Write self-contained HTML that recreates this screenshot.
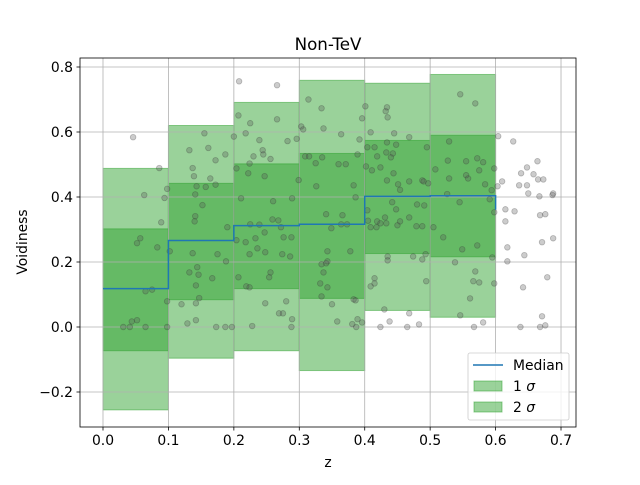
<!DOCTYPE html>
<html><head><meta charset="utf-8"><style>
body{margin:0;background:#fff}
svg text{font-family:"DejaVu Sans","Liberation Sans",sans-serif;fill:#000}
</style></head><body>
<svg id="c" width="640" height="480" xmlns="http://www.w3.org/2000/svg"></svg>
<script>
const binEdges=[0,0.1,0.2,0.3,0.4,0.5,0.6];
const medians=[0.118,0.266,0.312,0.316,0.402,0.404,0.361];
const s1Lo=[-0.073,0.084,0.118,0.088,0.226,0.216];
const s1Hi=[0.302,0.442,0.502,0.534,0.574,0.59];
const s2Lo=[-0.255,-0.096,-0.073,-0.134,0.051,0.030];
const s2Hi=[0.488,0.62,0.691,0.759,0.75,0.777];
const xTicks=[0,0.1,0.2,0.3,0.4,0.5,0.6,0.7];
const xTickLabels=["0.0","0.1","0.2","0.3","0.4","0.5","0.6","0.7"];
const yTicks=[-0.2,0,0.2,0.4,0.6,0.8];
const yTickLabels=["\u22120.2","0.0","0.2","0.4","0.6","0.8"];
const pointsZ=[0.046,0.086,0.063,0.094,0.098,0.089,0.057,0.052,0.083,0.065,0.075,0.044,0.052,0.031,0.041,0.065,0.098,0.098,
0.155,0.132,0.161,0.187,0.172,0.137,0.139,0.164,0.143,0.157,0.172,0.141,0.152,0.141,0.140,0.190,0.102,0.137,0.175,0.188,0.132,0.144,0.146,0.167,0.142,0.147,0.12,0.142,0.129,0.142,0.173,0.187,0.197,
0.208,0.266,0.207,0.225,0.266,0.2,0.218,0.239,0.244,0.245,0.23,0.256,0.282,0.296,0.224,0.204,0.222,0.247,0.211,0.26,0.289,0.259,0.268,0.225,0.239,0.272,0.288,0.276,0.204,0.218,0.233,0.247,0.236,0.224,0.248,0.274,0.286,0.207,0.254,0.256,0.219,0.224,0.248,0.269,0.275,0.28,0.289,0.228,0.288,
0.314,0.334,0.303,0.306,0.337,0.364,0.392,0.309,0.315,0.335,0.389,0.325,0.36,0.371,0.299,0.326,0.383,0.386,0.341,0.366,0.349,0.364,0.373,0.343,0.378,0.343,0.341,0.334,0.337,0.332,0.343,0.334,0.383,0.386,0.35,0.358,0.389,0.381,0.387,0.396,
0.401,0.432,0.434,0.435,0.396,0.409,0.445,0.468,0.404,0.415,0.434,0.448,0.419,0.433,0.443,0.44,0.495,0.402,0.411,0.424,0.444,0.434,0.451,0.468,0.488,0.49,0.497,0.454,0.442,0.448,0.48,0.491,0.404,0.431,0.468,0.405,0.419,0.424,0.433,0.45,0.454,0.409,0.418,0.479,0.488,0.435,0.474,0.435,0.488,0.493,0.415,0.409,0.415,0.494,0.43,0.468,0.438,0.424,0.465,0.483,
0.546,0.569,0.529,0.527,0.555,0.572,0.581,0.508,0.575,0.529,0.555,0.558,0.584,0.594,0.526,0.545,0.591,0.505,0.52,0.549,0.572,0.595,0.538,0.569,0.566,0.575,0.561,0.546,0.567,0.581,
0.604,0.627,0.598,0.648,0.664,0.639,0.658,0.665,0.673,0.61,0.603,0.636,0.648,0.65,0.667,0.687,0.688,0.615,0.629,0.598,0.615,0.668,0.676,0.671,0.688,0.618,0.644,0.618,0.679,0.598,0.642,0.671,0.676,0.668,0.638];
const pointsV=[0.584,0.489,0.406,0.397,0.425,0.322,0.273,0.258,0.245,0.110,0.115,0.017,0.021,0,0,0,0,0.079,
0.596,0.544,0.551,0.531,0.513,0.489,0.464,0.457,0.433,0.431,0.438,0.408,0.375,0.341,0.325,0.307,0.233,0.227,0.224,0.202,0.168,0.184,0.161,0.150,0.128,0.089,0.07,0.073,0.011,0.021,0,0,0,
0.756,0.744,0.651,0.627,0.639,0.586,0.596,0.575,0.544,0.531,0.525,0.517,0.572,0.579,0.503,0.488,0.473,0.464,0.396,0.387,0.396,0.331,0.328,0.316,0.315,0.307,0.276,0.276,0.267,0.261,0.273,0.291,0.242,0.224,0.23,0.224,0.217,0.153,0.153,0.168,0.125,0.122,0.073,0.042,0.042,0.079,0.024,0.003,0,
0.70,0.673,0.617,0.608,0.611,0.593,0.577,0.525,0.525,0.522,0.531,0.504,0.501,0.501,0.452,0.433,0.436,0.399,0.347,0.344,0.304,0.316,0.316,0.233,0.233,0.202,0.196,0.193,0.168,0.134,0.122,0.094,0.085,0.082,0.07,0.017,0.024,0.009,0,0.014,
0.679,0.664,0.676,0.645,0.642,0.599,0.596,0.584,0.553,0.553,0.568,0.561,0.525,0.537,0.534,0.522,0.553,0.494,0.482,0.491,0.473,0.451,0.439,0.448,0.451,0.448,0.442,0.422,0.384,0.362,0.377,0.374,0.359,0.337,0.337,0.327,0.325,0.319,0.319,0.313,0.325,0.307,0.307,0.31,0.31,0.217,0.217,0.205,0.208,0.224,0.15,0.125,0.134,0.141,0.054,0.042,0.017,0,0,0.008,
0.716,0.688,0.571,0.512,0.51,0.519,0.507,0.485,0.482,0.457,0.467,0.457,0.439,0.421,0.409,0.384,0.393,0.307,0.276,0.239,0.251,0.214,0.199,0.171,0.141,0.137,0.088,0.036,0,0.014,
0.587,0.571,0.488,0.491,0.51,0.473,0.47,0.454,0.454,0.448,0.433,0.436,0.436,0.411,0.402,0.406,0.411,0.362,0.356,0.353,0.325,0.344,0.347,0.261,0.273,0.245,0.221,0.202,0.153,0.134,0.122,0.033,0.005,0,0];

const NS="http://www.w3.org/2000/svg";
const svg=document.getElementById('c');
const L=80,R=576,T=58,B=427;
const X=z=>103+z*654.3;
const Y=v=>327-v*325;
function mk(tag,attrs,parent){const e=document.createElementNS(NS,tag);for(const k in attrs)e.setAttribute(k,attrs[k]);(parent||svg).appendChild(e);return e;}

for(let i=0;i<s2Lo.length;i++){
  const r=mk('rect',{x:X(binEdges[i]),y:Y(s2Hi[i]),width:X(binEdges[i+1])-X(binEdges[i]),height:Y(s2Lo[i])-Y(s2Hi[i]),fill:'#2ca02c','fill-opacity':0.48,stroke:'#2ca02c','stroke-opacity':0.5,'stroke-width':1});
  
  
}
for(let i=0;i<s1Lo.length;i++){
  const r=mk('rect',{x:X(binEdges[i]),y:Y(s1Hi[i]),width:X(binEdges[i+1])-X(binEdges[i]),height:Y(s1Lo[i])-Y(s1Hi[i]),fill:'#2ca02c','fill-opacity':0.48,stroke:'#2ca02c','stroke-opacity':0.5,'stroke-width':1});
  
  
}
xTicks.forEach(t=>{const g=mk('line',{x1:X(t),x2:X(t),y1:T,y2:B,stroke:'#b0b0b0','stroke-width':0.8});
  
  });
yTicks.forEach(t=>{const g=mk('line',{x1:L,x2:R,y1:Y(t),y2:Y(t),stroke:'#b0b0b0','stroke-width':0.8});
  
  });
for(let i=0;i<pointsZ.length;i++){
  const c=mk('circle',{cx:X(pointsZ[i]),cy:Y(pointsV[i]),r:2.8,fill:'#555','fill-opacity':0.3,stroke:'#333','stroke-opacity':0.3,'stroke-width':0.8});
  
  
}
let d='M'+X(binEdges[0])+','+Y(medians[0]);
for(let i=1;i<binEdges.length;i++){d+=' L'+X(binEdges[i])+','+Y(medians[i-1])+' L'+X(binEdges[i])+','+Y(medians[i]);}
const m=mk('path',{d:d,fill:'none',stroke:'#1f77b4','stroke-width':1.5});


const f=mk('rect',{x:L,y:T,width:R-L,height:B-T,fill:'none',stroke:'#000','stroke-width':0.8});


xTicks.forEach((t,i)=>{mk('line',{x1:X(t),x2:X(t),y1:B,y2:B+3.5,stroke:'#000','stroke-width':0.8});
  const tx=mk('text',{x:X(t),y:B+18,'text-anchor':'middle','font-size':13.9});tx.textContent=xTickLabels[i];
  
  });
yTicks.forEach((t,i)=>{mk('line',{x1:L-3.5,x2:L,y1:Y(t),y2:Y(t),stroke:'#000','stroke-width':0.8});
  const tx=mk('text',{x:L-7,y:Y(t)+5,'text-anchor':'end','font-size':13.9});tx.textContent=yTickLabels[i];
  
  });
</script>
<svg style="position:absolute;left:0;top:0" width="640" height="480" xmlns="http://www.w3.org/2000/svg">
<text x="328" y="50" text-anchor="middle" font-size="16.7">Non-TeV</text>
<text x="328" y="467" text-anchor="middle" font-size="13.9">z</text>
<text x="27" y="242" text-anchor="middle" font-size="13.9" transform="rotate(-90 27 242)">Voidiness</text>
<g>
<rect x="468" y="353" width="101" height="67" rx="2" fill="#fff" fill-opacity="0.8" stroke="#ccc" stroke-width="0.8"/>
<line x1="473" y1="365" x2="503" y2="365" stroke="#1f77b4" stroke-width="1.5"/>
<text x="513" y="370" font-size="13.9">Median</text>
<rect x="474" y="381" width="28" height="10" fill="#2ca02c" fill-opacity="0.48" stroke="#2ca02c" stroke-opacity="0.5"/>
<text x="513" y="391" font-size="13.9">1 <tspan font-style="italic">σ</tspan></text>
<rect x="474" y="402" width="28" height="10" fill="#2ca02c" fill-opacity="0.48" stroke="#2ca02c" stroke-opacity="0.5"/>
<text x="513" y="412" font-size="13.9">2 <tspan font-style="italic">σ</tspan></text>
</g>
</svg>
</body></html>
